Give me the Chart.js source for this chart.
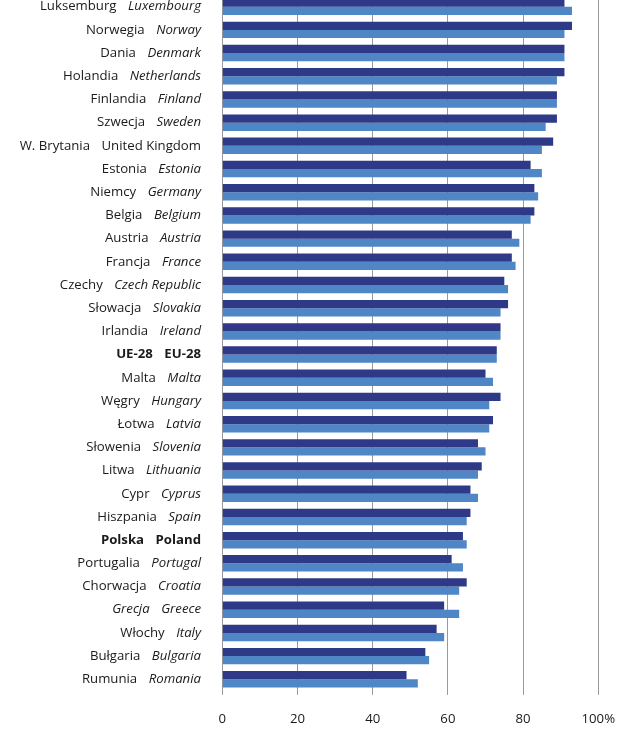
<!DOCTYPE html>
<html lang="pl">
<head>
    <meta charset="UTF-8">
    <meta name="viewport" content="width=device-width, initial-scale=1.0">
    <title>Wykres</title>
    <script src="https://cdn.jsdelivr.net/npm/chart.js"></script>
    <style>
        body { margin: 0; background: #fff; overflow: hidden; }
        #okno { position: absolute; left: 0; top: -20px; width: 622px; height: 753px; }
    </style>
</head>
<body>
    <div id="okno">
        <canvas id="grafico1"></canvas>
    </div>

    <script>
        // nazwy krajow: polska i angielska
        const krajePl = ["Luksemburg", "Norwegia", "Dania", "Holandia", "Finlandia", "Szwecja", "W. Brytania",
            "Estonia", "Niemcy", "Belgia", "Austria", "Francja", "Czechy", "Słowacja", "Irlandia", "UE-28",
            "Malta", "Węgry", "Łotwa", "Słowenia", "Litwa", "Cypr", "Hiszpania", "Polska", "Portugalia",
            "Chorwacja", "Grecja", "Włochy", "Bułgaria", "Rumunia"]
        const krajeEn = ["Luxembourg", "Norway", "Denmark", "Netherlands", "Finland", "Sweden", "United Kingdom",
            "Estonia", "Germany", "Belgium", "Austria", "France", "Czech Republic", "Slovakia", "Ireland", "EU-28",
            "Malta", "Hungary", "Latvia", "Slovenia", "Lithuania", "Cyprus", "Spain", "Poland", "Portugal",
            "Croatia", "Greece", "Italy", "Bulgaria", "Romania"]

        // wartosci (%)
        const seria1 = [91, 93, 91, 91, 89, 89, 88, 82, 83, 83, 77, 77, 75, 76, 74, 73, 70, 74, 72, 68, 69, 66, 66, 64, 61, 65, 59, 57, 54, 49]
        const seria2 = [93, 91, 91, 89, 89, 86, 85, 85, 84, 82, 79, 78, 76, 74, 74, 73, 72, 71, 71, 70, 68, 68, 65, 65, 64, 63, 63, 59, 55, 52]

        const ticksX = [0, 20, 40, 60, 80, 100]

        // wyroznienia w opisach
        const pogrubione = ["UE-28", "EU-28", "Polska", "Poland"]
        const prosteEn = ["United Kingdom"]
        const kursywaPl = ["Grecja"]

        const FONT = '"Open Sans", sans-serif'
        const ROZMIAR = '13.2px '

        // rysowanie opisow osi Y (dwa kroje w jednej linii)
        const opisyPlugin = {
            id: 'opisy',
            afterDraw(chart) {
                const c = chart.ctx
                const y = chart.scales.y
                const prawa = 201
                c.save()
                c.fillStyle = '#1a1a1a'
                c.textBaseline = 'middle'
                c.textAlign = 'right'
                for (let i = 0; i < krajePl.length; i++) {
                    const py = y.getPixelForValue(i)
                    const en = krajeEn[i]
                    const pl = krajePl[i]
                    let fEn = pogrubione.includes(en) ? 'bold ' + ROZMIAR + FONT
                        : prosteEn.includes(en) ? ROZMIAR + FONT : 'italic ' + ROZMIAR + FONT
                    let fPl = pogrubione.includes(pl) ? 'bold ' + ROZMIAR + FONT
                        : kursywaPl.includes(pl) ? 'italic ' + ROZMIAR + FONT : ROZMIAR + FONT
                    c.font = fEn
                    c.fillText(en, prawa, py)
                    const w = c.measureText(en).width
                    c.font = fPl
                    c.fillText(pl, prawa - w - 11.5, py)
                }
                c.restore()
            }
        }

        const ctx = document.getElementById("grafico1")

        let grafico1 = new Chart(ctx, {
            type: 'bar',
            data: {
                labels: krajePl.map((p, i) => p + ' ' + krajeEn[i]),
                datasets: [{
                    label: 'Seria 1',
                    data: seria1,
                    backgroundColor: '#2e3a87'
                }, {
                    label: 'Seria 2',
                    data: seria2,
                    backgroundColor: '#4f86c6'
                }]
            },
            options: {
                indexAxis: 'y',
                responsive: true,
                maintainAspectRatio: false,
                animation: false,
                datasets: {
                    bar: { categoryPercentage: 0.71, barPercentage: 1.0 }
                },
                layout: { padding: { top: 15.1, right: 23.7, left: 0, bottom: 0 } },
                plugins: {
                    legend: { display: false },
                    tooltip: { enabled: false }
                },
                scales: {
                    x: {
                        min: 0,
                        max: 100,
                        afterBuildTicks: s => { s.ticks = ticksX.map(v => ({ value: v })) },
                        afterFit: s => {
                            s.height = 42.1
                            s.paddingLeft = 0
                            s.paddingRight = 0
                        },
                        grid: { color: '#999', lineWidth: 1, drawTicks: true, tickLength: 4, tickColor: '#999' },
                        border: { display: false },
                        ticks: {
                            padding: 16,
                            color: '#1a1a1a',
                            font: { family: FONT, size: 13.2 },
                            maxRotation: 0,
                            callback: v => v === 100 ? '100%' : v
                        }
                    },
                    y: {
                        afterFit: s => { s.width = 222.3 },
                        grid: { display: false },
                        border: { display: false },
                        ticks: { display: false }
                    }
                }
            },
            plugins: [opisyPlugin]
        })
    </script>
</body>
</html>
